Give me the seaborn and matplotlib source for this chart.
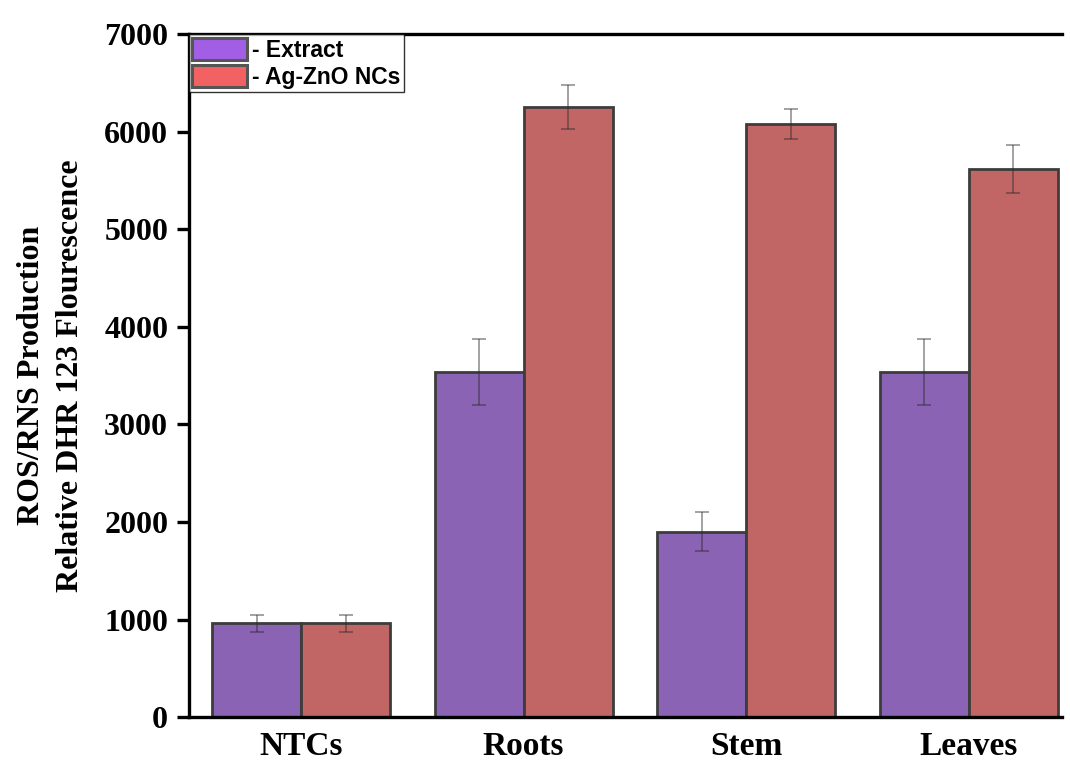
import matplotlib
matplotlib.use("Agg")
import matplotlib.pyplot as plt
from matplotlib.patches import Patch
import seaborn as sns
import pandas as pd

# ---- data ----
categories = ["NTCs", "Roots", "Stem", "Leaves"]
series_names = ["- Extract", "- Ag-ZnO NCs"]
extract_vals = [960, 3540, 1900, 3535]
extract_err = [85, 340, 200, 340]
agzno_vals = [960, 6255, 6080, 5620]
agzno_err = [85, 230, 150, 245]
y_ticks = [0, 1000, 2000, 3000, 4000, 5000, 6000, 7000]

bar_colors = ["#8A63B4", "#C16565"]
legend_colors = ["#A25FE6", "#F26262"]

df = pd.DataFrame({
    "cat": categories * 2,
    "series": [series_names[0]] * 4 + [series_names[1]] * 4,
    "val": extract_vals + agzno_vals,
    "err": extract_err + agzno_err,
})

sns.set_theme(style="white")
plt.rcParams["font.family"] = ["Liberation Serif", "DejaVu Serif"]
for k in ["text.color", "axes.labelcolor", "xtick.color", "ytick.color"]:
    plt.rcParams[k] = "black"

fig = plt.figure(figsize=(10.7, 7.62), dpi=100)
ax = fig.add_axes([0.1766, 0.059, 0.8159, 0.896])

sns.barplot(data=df, x="cat", y="val", hue="series", order=categories,
            hue_order=series_names, palette=bar_colors, errorbar=None,
            width=0.8, edgecolor="#3c3c3c", linewidth=2.0, saturation=1,
            ax=ax, legend=False)

# error bars positioned at bar centers
for s_idx, sname in enumerate(series_names):
    sub = df[df["series"] == sname].set_index("cat").loc[categories]
    bars = ax.containers[s_idx]
    xs = [b.get_x() + b.get_width() / 2 for b in bars]
    ax.errorbar(xs, sub["val"].values, yerr=sub["err"].values, fmt="none",
                ecolor="#2a2a2a", alpha=0.55, elinewidth=1.1, capsize=5,
                capthick=1.1, zorder=5)

ax.set_xlim(-0.504, 3.42)
ax.set_ylim(0, 7000)
ax.set_yticks(y_ticks)
ax.set_yticklabels([str(t) for t in y_ticks], fontsize=23, fontweight="bold")
ax.set_xticks(range(len(categories)))
ax.set_xticklabels(categories, fontsize=24, fontweight="bold")
ax.set_xlabel("")
ax.set_ylabel("ROS/RNS Production\nRelative DHR 123 Flourescence",
              fontsize=23, fontweight="bold", labelpad=14, linespacing=1.45)

for side in ["left", "bottom", "top"]:
    ax.spines[side].set_visible(True)
    ax.spines[side].set_linewidth(2.4)
    ax.spines[side].set_color("black")
ax.spines["right"].set_visible(False)
ax.tick_params(axis="y", direction="out", length=9, width=2.4, color="black",
               left=True, pad=6)
ax.tick_params(axis="x", length=0, pad=10)

handles = [Patch(facecolor=c, edgecolor="#555555", linewidth=2.2)
           for c in legend_colors]
leg = ax.legend(handles, series_names, loc="upper left",
                bbox_to_anchor=(0.0, 1.0), borderaxespad=0.0,
                prop={"family": "Liberation Sans", "weight": "bold", "size": 16.5},
                frameon=True, fancybox=False, edgecolor="black",
                handlelength=2.4, handleheight=1.1, handletextpad=0.2,
                labelspacing=0.15, borderpad=0.15)
leg.get_frame().set_linewidth(1.0)

fig.savefig("out.png", dpi=100)
